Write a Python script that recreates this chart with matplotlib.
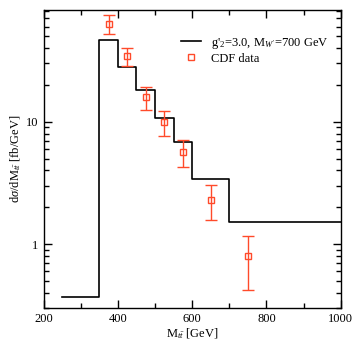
import matplotlib
matplotlib.use('Agg')
import matplotlib.pyplot as plt
import matplotlib.ticker as mticker
import numpy as np

plt.rcParams['font.family'] = 'Liberation Serif'
plt.rcParams['mathtext.fontset'] = 'custom'
plt.rcParams['mathtext.rm'] = 'Liberation Serif'
plt.rcParams['mathtext.it'] = 'Liberation Serif:italic'

# theory histogram (bin edges and heights)
bin_edges = [250, 350, 400, 450, 500, 550, 600, 700, 1000]
theory = [0.37, 47, 28, 18.2, 10.8, 6.85, 3.43, 1.52]

# CDF data
m_data = [375, 425, 475, 525, 575, 650, 750]
cdf = [63.5, 34.3, 15.9, 9.95, 5.68, 2.29, 0.796]
err_hi = [75, 39.7, 19.2, 12.2, 7.08, 3.04, 1.17]
err_lo = [52, 28.6, 12.5, 7.68, 4.27, 1.57, 0.42]

red = '#ff4a2a'

fig = plt.figure(figsize=(3.61, 3.43), dpi=100)
ax = fig.add_axes([0.1205, 0.102, 0.8235, 0.869])

# step line without vertical drops at the outer edges
ax.step(bin_edges, theory + [theory[-1]], where='post', color='black', lw=1.2,
        label="g$'_2$=3.0, M$_{W'}$=700 GeV")

cdf = np.array(cdf)
yerr = [cdf - np.array(err_lo), np.array(err_hi) - cdf]
ax.errorbar(m_data, cdf, yerr=yerr, fmt='none', ecolor=red, elinewidth=1, capsize=4, capthick=1)
ax.plot(m_data, cdf, 's', mfc='none', mec=red, ms=4, mew=1, ls='none', label='CDF data')

ax.set_yscale('log')
ax.set_xlim(200, 1000)
ax.set_ylim(0.3, 82)
ax.set_xticks([200, 400, 600, 800, 1000])
ax.set_xticks([300, 500, 700, 900], minor=True)
minor_y = [0.3, 0.4, 0.5, 0.6, 0.7, 0.8, 0.9, 2, 3, 4, 5, 6, 7, 8, 9,
           20, 30, 40, 50, 60, 70, 80]
ax.yaxis.set_major_locator(mticker.FixedLocator([1, 10]))
ax.yaxis.set_major_formatter(mticker.FixedFormatter(['1', '10']))
ax.yaxis.set_minor_locator(mticker.FixedLocator(minor_y))
ax.yaxis.set_minor_formatter(mticker.NullFormatter())
ax.tick_params(which='both', direction='in', top=True, right=True, labelsize=9, width=1)
ax.tick_params(which='major', length=6)
ax.tick_params(which='minor', length=3.5)
for s in ax.spines.values():
    s.set_linewidth(1)

ax.set_xlabel(r'M$_{t\bar{t}}$ [GeV]', fontsize=9, labelpad=1)
ax.set_ylabel(r'd$\sigma$/dM$_{t\bar{t}}$ [fb/GeV]', fontsize=9, labelpad=2)

ax.legend(loc='upper right', frameon=False, fontsize=9, handlelength=1.6,
          borderaxespad=0.6, bbox_to_anchor=(1.0, 0.955), labelspacing=0.15)

fig.savefig('out.png', dpi=100)
